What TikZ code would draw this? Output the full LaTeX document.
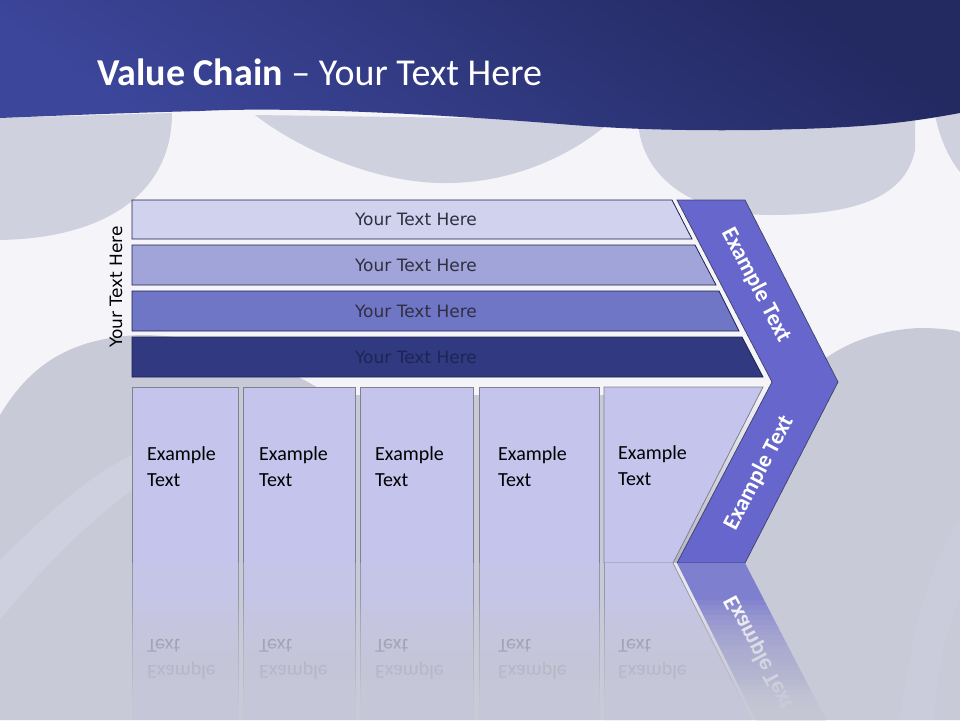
\documentclass[tikz,border=0pt]{standalone}
\usepackage{fontspec}
\setmainfont{Carlito}
\newfontfamily\barfont{DejaVu Sans}
\usetikzlibrary{calc,positioning}

\definecolor{paper}{HTML}{F4F4F9}
\definecolor{silk}{HTML}{C9CAD7}
\definecolor{silktop}{HTML}{D0D1DE}
\definecolor{silklight}{HTML}{D6D8EC}
\definecolor{bannerdark}{HTML}{232961}
\definecolor{bannerlight}{HTML}{3C469A}
\definecolor{levelone}{HTML}{D0D2EE}
\definecolor{leveltwo}{HTML}{A0A4D8}
\definecolor{levelthree}{HTML}{7076C6}
\definecolor{levelfour}{HTML}{313A80}
\definecolor{edgeblue}{HTML}{1B2050}
\definecolor{chevronblue}{HTML}{6666CC}
\definecolor{cellfill}{HTML}{C4C4EC}
\definecolor{cellline}{HTML}{80808F}
\definecolor{bartextgray}{HTML}{2F2F40}
\definecolor{bartextdark}{HTML}{1F2455}
\definecolor{refltext}{HTML}{76768A}
\definecolor{reflfaint}{HTML}{9494A8}

\tikzstyle{silkpart}=[fill=silktop]
\tikzstyle{bar}=[draw=edgeblue, line width=0.8pt]
\tikzstyle{bartext}=[font=\barfont\fontsize{17}{20}\selectfont, text=bartextgray]
\tikzstyle{cell}=[draw=cellline, fill=cellfill, line width=0.8pt, anchor=north west,
minimum height=176pt, inner sep=0pt]
\tikzstyle{celltext}=[font=\fontsize{20}{26}\selectfont, align=left, anchor=west, inner sep=0pt]
\tikzstyle{arrowtext}=[font=\bfseries\fontsize{23}{26}\selectfont, text=white]
\tikzstyle{chevron}=[draw=edgeblue!85, fill=chevronblue, line width=0.7pt]
\tikzstyle{mirrorline}=[draw=cellline!70!silk, line width=0.8pt]

\begin{document}
\begin{tikzpicture}[x=1pt,y=-1pt]
\useasboundingbox (0,0) rectangle (960,720);
\fill[paper] (0,0) rectangle (960,720);

\fill[silkpart] (0,118) -- (172,113) .. controls (172,190) and (110,238) .. (0,240) -- cycle;
\fill[silkpart] (255,115) .. controls (300,150) and (380,185) .. (450,183) .. controls (520,182) and (580,150) .. (612,120) -- cycle;
\fill[silkpart] (638,120) .. controls (640,175) and (690,215) .. (770,215) .. controls (850,215) and (905,200) .. (915,150) -- (915,118) -- cycle;
\fill[silkpart] (935,115) .. controls (940,140) and (950,160) .. (960,172) -- (960,112) -- cycle;
\fill[silk] (0,415) .. controls (30,365) and (70,338) .. (140,335) .. controls (220,335) and (290,370) .. (330,395) -- (790,395) .. controls (815,355) and (865,330) .. (920,328) .. controls (940,328) and (955,330) .. (960,332) -- (960,720) -- (0,720) -- cycle;
\fill[silklight, opacity=0.4] (0,560) .. controls (60,500) and (100,470) .. (132,455) -- (132,490) .. controls (90,520) and (40,570) .. (0,620) -- cycle;
\fill[silklight, opacity=0.2] (900,720) .. controls (910,640) and (930,560) .. (960,520) -- (960,600) .. controls (945,630) and (935,680) .. (935,720) -- cycle;

\shade[top color=bannerdark, bottom color=bannerlight, shading angle=-35]
(0,0) -- (960,0) -- (960,113) .. controls (900,124) and (860,128) .. (760,130)
.. controls (680,131) and (620,129) .. (560,124) .. controls (460,116) and (300,106) .. (200,111)
.. controls (120,113) and (50,116) .. (0,118) -- cycle;
\node (title) [anchor=base west, text=white, font=\fontsize{38}{42}\selectfont, inner sep=0pt] at (97,85) {\textbf{Value Chain} – Your Text Here};

\draw[bar, fill=levelone] (132,200) -- (672,200) -- (692,239) -- (132,239) -- cycle;
\draw[bar, fill=leveltwo] (132,245) -- (695,245) -- (716,285) -- (132,285) -- cycle;
\draw[bar, fill=levelthree] (132,291) -- (719,291) -- (739,331) -- (132,331) -- cycle;
\draw[bar, fill=levelfour] (132,337) -- (742,337) -- (763,377) -- (132,377) -- cycle;
\node (levelonetext) [bartext] at (416,219.5) {Your Text Here};
\node (leveltwotext) [bartext] at (416,265) {Your Text Here};
\node (levelthreetext) [bartext] at (416,311) {Your Text Here};
\node (levelfourtext) [bartext, text=bartextdark] at (416,357) {Your Text Here};
\node (sidetext) [bartext, text=black, rotate=90] at (116,287) {Your Text Here};

\shade[top color=paper, bottom color=silk!90!black] (763,387) -- (772,382) -- (677,563) -- (673,563) -- cycle;

\node (cellone) [cell, minimum width=106pt] at (132,387) {};
\node (celltwo) [cell, minimum width=112pt] at (243,387) {};
\node (cellthree) [cell, minimum width=113pt] at (360,387) {};
\node (cellfour) [cell, minimum width=120pt] at (479,387) {};
\draw[draw=cellline, fill=cellfill, line width=0.8pt] (604,387) -- (763,387) -- (673,563) -- (604,563) -- cycle;
\coordinate (cellfive) at (604,475);

\node (celloneText) [celltext] at ([xshift=15pt, yshift=9pt]cellone.west) {Example\\Text};
\node (celltwoText) [celltext] at ([xshift=16pt, yshift=9pt]celltwo.west) {Example\\Text};
\node (cellthreeText) [celltext] at ([xshift=15pt, yshift=9pt]cellthree.west) {Example\\Text};
\node (cellfourText) [celltext] at ([xshift=19pt, yshift=9pt]cellfour.west) {Example\\Text};
\node (cellfiveText) [celltext] at ([xshift=14pt, yshift=9pt]cellfive) {Example\\Text};

\draw[chevron] (677,200) -- (745,200) -- (838,382) -- (745,563) -- (677,563) -- (772,382) -- cycle;
\node (upperlabel) [arrowtext, rotate=-62.4] at (756,285) {Example Text};
\node (lowerlabel) [arrowtext, rotate=62.4] at (759,473) {Example Text};

\fill[cellfill!80!silk] (132,563) rectangle (238,720);
\fill[cellfill!80!silk] (243,563) rectangle (355,720);
\fill[cellfill!80!silk] (360,563) rectangle (473,720);
\fill[cellfill!80!silk] (479,563) rectangle (599,720);
\fill[cellfill!80!silk] (604,563) -- (673,563) -- (752,720) -- (604,720) -- cycle;
\fill[paper!70!silk] (673,563) -- (677,563) -- (756,720) -- (752,720) -- cycle;
\fill[chevronblue!75!silk] (677,563) -- (745,563) -- (826,720) -- (756,720) -- cycle;
\foreach \xline in {132,238,243,355,360,473,479,599,604}
  \draw[mirrorline] (\xline,563) -- (\xline,720);
\draw[mirrorline] (673,563) -- (752,720);
\node (cellonemirror) [celltext, text=refltext, yscale=-1] at (147,659) {{\color{reflfaint}Example}\\Text};
\node (celltwomirror) [celltext, text=refltext, yscale=-1] at (259,659) {{\color{reflfaint}Example}\\Text};
\node (cellthreemirror) [celltext, text=refltext, yscale=-1] at (375,659) {{\color{reflfaint}Example}\\Text};
\node (cellfourmirror) [celltext, text=refltext, yscale=-1] at (498,659) {{\color{reflfaint}Example}\\Text};
\node (cellfivemirror) [celltext, text=refltext, yscale=-1] at (618,659) {{\color{reflfaint}Example}\\Text};
\node (lowermirror) [arrowtext, yscale=-1, rotate=62.4] at (759,653) {Example Text};

\foreach \k in {0,...,23}
  \fill[silk, opacity=0.09] (125,{600+5*\k}) rectangle (850,720);
\foreach \k in {0,...,7}
  \fill[silk, opacity=0.2] (125,{680+5*\k}) rectangle (850,720);
\end{tikzpicture}
\end{document}
